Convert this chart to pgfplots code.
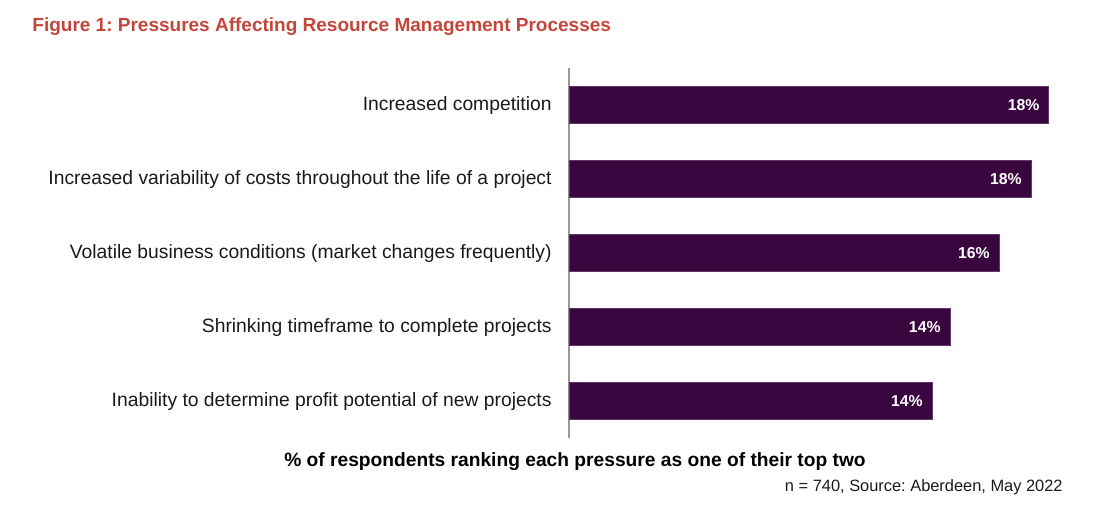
\documentclass[border=0pt]{standalone}
\usepackage{fontspec}
\setmainfont{Liberation Sans}
\usepackage{pgfplots}
\pgfplotsset{compat=1.18}
\definecolor{barc}{HTML}{3A0640}
\definecolor{titc}{HTML}{C4453A}
\definecolor{txt}{HTML}{1A1A1A}
\frenchspacing
\begin{document}
\begin{tikzpicture}
\path[use as bounding box] (0,0) rectangle (550pt,-255.5pt);
\begin{axis}[
  at={(284.5pt,-219pt)}, anchor=south west,
  scale only axis, width=260pt, height=185pt,
  xmin=0, xmax=20, ymin=-0.5, ymax=4.5,
  axis x line=none, axis y line*=left,
  axis line style={draw=gray!80, line width=0.75pt, -},
  xbar, bar width=18.5pt,
  ytick={0,1,2,3,4}, major tick length=0pt,
  yticklabels={Inability to determine profit potential of new projects,
    Shrinking timeframe to complete projects,
    Volatile business conditions (market changes frequently),
    Increased variability of costs throughout the life of a project,
    Increased competition},
  yticklabel style={font=\fontsize{9.65pt}{11pt}\selectfont, text=txt, inner sep=0pt, anchor=east, xshift=-8.5pt},
  nodes near coords={\pgfplotspointmeta\%},
  point meta=explicit symbolic,
  nodes near coords style={anchor=east, inner sep=0pt, text=white, font=\fontsize{7.9pt}{9pt}\selectfont\bfseries, xshift=-4.5pt},
  clip=false,
]
\addplot[fill=barc, draw=barc!80!white, line width=0.3pt] table[x=v, y=p, meta=l] {
v p l
18.45 4 18
17.77 3 18
16.54 2 16
14.65 1 14
13.96 0 14
};
\end{axis}
\node[anchor=west, inner sep=0pt, text=titc, font=\fontsize{9.5pt}{11pt}\selectfont\bfseries] at (16pt,-13.5pt) {Figure 1: Pressures Affecting Resource Management Processes};
\node[anchor=center, text=black, font=\fontsize{9.6pt}{11pt}\selectfont\bfseries] at (287.5pt,-231pt) {\% of respondents ranking each pressure as one of their top two};
\node[anchor=east, inner sep=0pt, text=txt, font=\fontsize{8.2pt}{10pt}\selectfont] at (531.5pt,-243.5pt) {n = 740, Source: Aberdeen, May 2022};
\end{tikzpicture}
\end{document}
